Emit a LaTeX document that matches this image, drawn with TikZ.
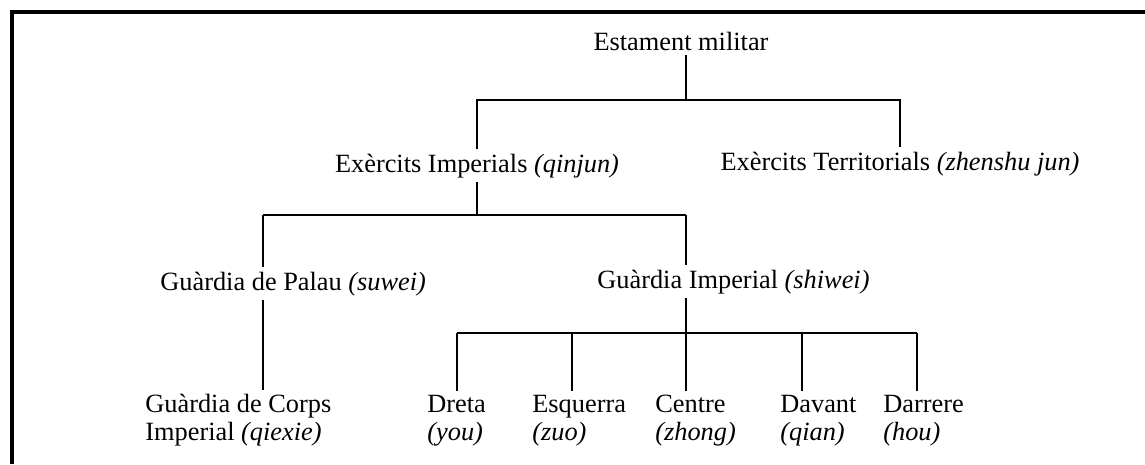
\documentclass[tikz,border=0pt]{standalone}
\usepackage{fontspec}
\setmainfont{Liberation Serif}

\begin{document}
\begin{tikzpicture}
      [%%%%%%%%%%%%%%%%%%%%%%%%%%%%%%
      x=0.02cm,y=-0.02cm,
      lbl/.style={inner xsep=0pt,inner ysep=2.5pt,font=\fontsize{15}{15.5}\selectfont,anchor=base},
      lblleft/.style={lbl,anchor=base west},
      lbltwo/.style={lbl,align=left,anchor=base west},
      link/.style={draw=black,line width=1.35pt},
      frame/.style={draw=black,line width=2pt},
      ]%%%%%%%%%%%%%%%%%%%%%%%%%%%%%%
      \useasboundingbox (0,0) rectangle (1145,464);
      \draw[frame] (1145,12) -- (12,12) -- (12,464);

      \node[lbl] (estament) at (681,50){Estament militar};
      \node[lbl] (imperials) at (477,172){Exèrcits Imperials \textit{(qinjun)}};
      \node[lbl] (territorials) at (900,170){Exèrcits Territorials \textit{(zhenshu jun)}};
      \node[lblleft] (palau) at (160,290){Guàrdia de Palau \textit{(suwei)}};
      \node[lblleft] (gimperial) at (597,288){Guàrdia Imperial \textit{(shiwei)}};
      \node[lbltwo] (corps) at (145,440){Guàrdia de Corps\\Imperial \textit{(qiexie)}};
      \node[lbltwo] (dreta) at (427,440){Dreta\\\textit{(you)}};
      \node[lbltwo] (esquerra) at (532,440){Esquerra\\\textit{(zuo)}};
      \node[lbltwo] (centre) at (655,440){Centre\\\textit{(zhong)}};
      \node[lbltwo] (davant) at (780,440){Davant\\\textit{(qian)}};
      \node[lbltwo] (darrere) at (883,440){Darrere\\\textit{(hou)}};

      \coordinate (top) at (686,100);
      \coordinate (mid) at (477,215);
      \coordinate (left) at (263,215);
      \coordinate (right) at (686,215);
      \coordinate (low) at (686,333);
      \coordinate (c1) at (457,333);
      \coordinate (c2) at (572,333);
      \coordinate (c4) at (802,333);
      \coordinate (c5) at (917,333);

      \draw[link] (estament.south -| top) -- (top);
      \draw[link] (imperials.north) |- (top) -| (territorials.north);
      \draw[link] (imperials.south) -- (mid);
      \draw[link] (left) -- (right);
      \draw[link] (left) -- (left |- palau.north);
      \draw[link] (left |- palau.south) -- (left |- corps.north);
      \draw[link] (right) -- (right |- gimperial.north);
      \draw[link] (right |- gimperial.south) -- (low);
      \draw[link] (c1) -- (c5);
      \draw[link] (c1) -- (c1 |- dreta.north);
      \draw[link] (c2) -- (c2 |- esquerra.north);
      \draw[link] (low) -- (low |- centre.north);
      \draw[link] (c4) -- (c4 |- davant.north);
      \draw[link] (c5) -- (c5 |- darrere.north);
    \end{tikzpicture}
\end{document}
